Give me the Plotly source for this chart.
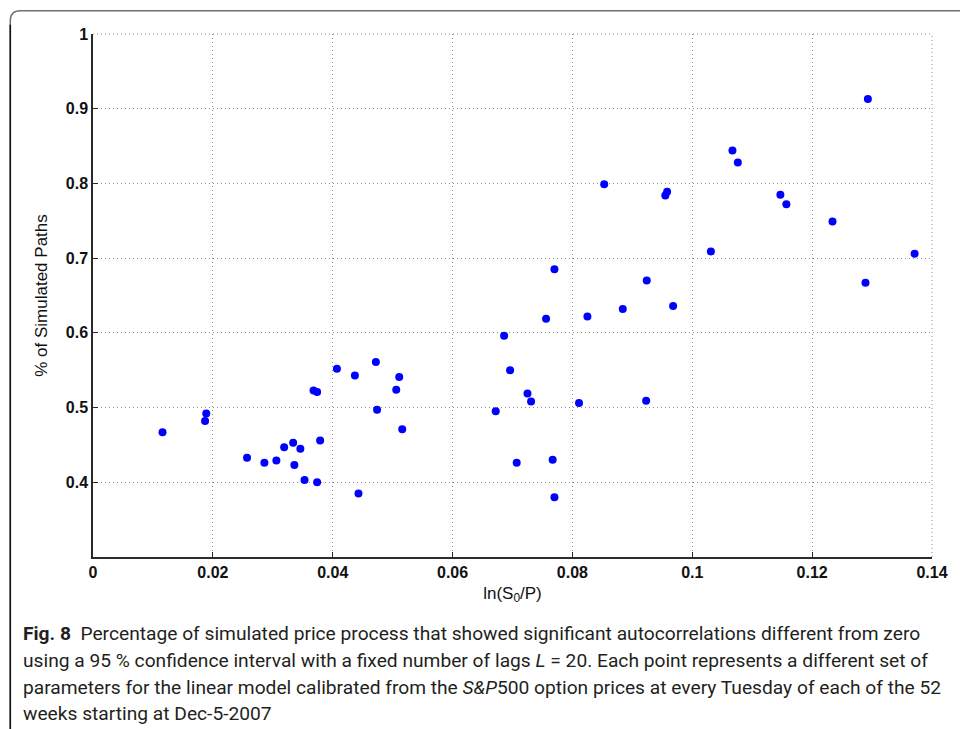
import plotly.graph_objects as go

# data
ln_s0_p = [0.0116, 0.0189, 0.0187, 0.0257, 0.0286, 0.0306, 0.0319, 0.0334, 0.0346,
           0.0336, 0.0353, 0.0374, 0.0379, 0.0368, 0.0374, 0.0407, 0.0437, 0.0472,
           0.0474, 0.0443, 0.0511, 0.0506, 0.0516,
           0.0672, 0.0686, 0.0696, 0.0707, 0.0725, 0.0731, 0.0756, 0.0767, 0.0770,
           0.0811, 0.0825, 0.0884, 0.0923, 0.0968,
           0.0770, 0.0853, 0.0924, 0.0955, 0.0958, 0.1031, 0.1067, 0.1076, 0.1147,
           0.1157, 0.1234, 0.1293, 0.1289, 0.1371]
pct_paths = [0.467, 0.492, 0.482, 0.433, 0.426, 0.429, 0.447, 0.453, 0.445,
             0.423, 0.403, 0.400, 0.456, 0.523, 0.521, 0.552, 0.543, 0.561,
             0.497, 0.385, 0.541, 0.524, 0.471,
             0.495, 0.596, 0.550, 0.426, 0.519, 0.508, 0.619, 0.430, 0.380,
             0.506, 0.622, 0.632, 0.509, 0.636,
             0.685, 0.799, 0.670, 0.784, 0.789, 0.709, 0.844, 0.828, 0.785,
             0.772, 0.749, 0.913, 0.667, 0.706]
x_ticks = [0, 0.02, 0.04, 0.06, 0.08, 0.1, 0.12, 0.14]
x_tick_labels = ["0", "0.02", "0.04", "0.06", "0.08", "0.1", "0.12", "0.14"]
y_ticks = [0.4, 0.5, 0.6, 0.7, 0.8, 0.9, 1.0]
y_tick_labels = ["0.4", "0.5", "0.6", "0.7", "0.8", "0.9", "1"]

caption_lines = [
    "<b>Fig. 8</b>  Percentage of simulated price process that showed significant autocorrelations different from zero",
    "using a 95 % confidence interval with a fixed number of lags <i>L</i> = 20. Each point represents a different set of",
    "parameters for the linear model calibrated from the <i>S&amp;P</i>500 option prices at every Tuesday of each of the 52",
    "weeks starting at Dec-5-2007",
]

W, H = 960, 729
L, R, T, B = 92.7, 931.7, 34.3, 556.7
GRID = "#8c8c8c"
GRID_DASH = "1px,3px"


def px(x):
    return (x - L) / (R - L)


def py(y):
    return (B - y) / (B - T)


fig = go.Figure()
fig.add_trace(go.Scatter(
    x=ln_s0_p, y=pct_paths, mode="markers",
    marker=dict(color="#0000ff", size=8, line=dict(width=0)),
    showlegend=False, cliponaxis=False,
))

axis_common = dict(
    showgrid=True, gridcolor=GRID, griddash=GRID_DASH, gridwidth=1,
    showline=True, linecolor="#2a2a2a", linewidth=1.5,
    ticks="inside", ticklen=5, tickcolor="#2a2a2a", tickwidth=1,
    tickfont=dict(family="Liberation Sans, Arial", size=16, color="#111111"),
    zeroline=False, mirror=False,
)

fig.update_xaxes(
    range=[0, 0.14], tickvals=x_ticks, ticktext=[f"<b>{t}</b>" for t in x_tick_labels],
    title=dict(text="ln(S<sub>0</sub>/P)", standoff=7,
               font=dict(family="Liberation Sans, Arial", size=17, color="#111111")),
    **axis_common,
)
fig.update_yaxes(
    range=[0.3, 1.0], tickvals=y_ticks, ticktext=[f"<b>{t}</b>" for t in y_tick_labels],
    title=dict(text="% of Simulated Paths", standoff=14,
               font=dict(family="Liberation Sans, Arial", size=17, color="#111111")),
    **axis_common,
)

shapes = []
# dotted top and right edges
shapes.append(dict(type="line", xref="paper", yref="paper", x0=0, x1=1, y0=1, y1=1,
                   line=dict(color=GRID, width=1, dash=GRID_DASH)))
shapes.append(dict(type="line", xref="paper", yref="paper", x0=1, x1=1, y0=0, y1=1,
                   line=dict(color=GRID, width=1, dash=GRID_DASH)))
# outer frame: gray top line and black left line with a rounded corner
r = 10
path = (f"M {px(10)},{py(H)} L {px(10)},{py(11 + r)} "
        f"Q {px(10)},{py(11)} {px(10 + r)},{py(11)} L {px(W)},{py(11)}")
shapes.append(dict(type="path", xref="paper", yref="paper", path=path,
                   line=dict(color="#707070", width=1.5)))
shapes.append(dict(type="line", xref="paper", yref="paper",
                   x0=px(10), x1=px(10), y0=py(25), y1=py(H),
                   line=dict(color="#111111", width=1.5)))

annotations = []
line_y = [633, 660, 687, 713]
for txt, yy in zip(caption_lines, line_y):
    annotations.append(dict(
        text=txt, xref="paper", yref="paper", x=px(21), y=py(yy),
        xanchor="left", yanchor="middle", showarrow=False, align="left",
        font=dict(family="Roboto, Noto Sans", size=19.2, color="#231f20"),
    ))

fig.update_layout(
    width=W, height=H, autosize=False,
    margin=dict(l=L, r=W - R, t=T, b=H - B),
    paper_bgcolor="white", plot_bgcolor="white",
    shapes=shapes, annotations=annotations,
)

fig.write_html("out.html", config={"displayModeBar": False},
               post_script="document.body.style.margin='0';")
